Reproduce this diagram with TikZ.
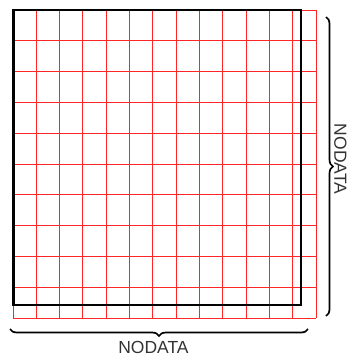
\documentclass[tikz,border=0pt]{standalone}
\usepackage{fontspec}
\setmainfont{Liberation Sans}
\usetikzlibrary{decorations.pathreplacing}
\begin{document}
\begin{tikzpicture}[x=1pt,y=-1pt,
  gridline/.style={red!85!white, line width=0.9pt},
  frame/.style={black, line width=2.8pt},
  bracestyle/.style={decorate, decoration={brace, amplitude=7pt}, line width=1.7pt, black},
  label/.style={font=\fontsize{17.5}{20}\selectfont, text=black!80, inner sep=0pt}]
\useasboundingbox (0,0) rectangle (347,356);
% red grid
\foreach \i in {0,...,13}
  \draw[gridline] ({13+\i*303/13},10) -- ({13+\i*303/13},318);
\foreach \j in {0,...,10}
  \draw[gridline] (13,{10+\j*30.8}) -- (316,{10+\j*30.8});
% black frame
\draw[frame] (13.5,10) rectangle (301,305);
% braces
\coordinate (rb1) at (326,17);
\coordinate (rb2) at (326,316);
\coordinate (bb1) at (308,329);
\coordinate (bb2) at (10,329);
\draw[bracestyle] (rb1) -- (rb2);
\draw[bracestyle] (bb1) -- (bb2);
\node[label, rotate=-90] (rlabel) at (340.5,159) {NODATA};
\node[label] (blabel) at (153.5,347) {NODATA};
\end{tikzpicture}
\end{document}
